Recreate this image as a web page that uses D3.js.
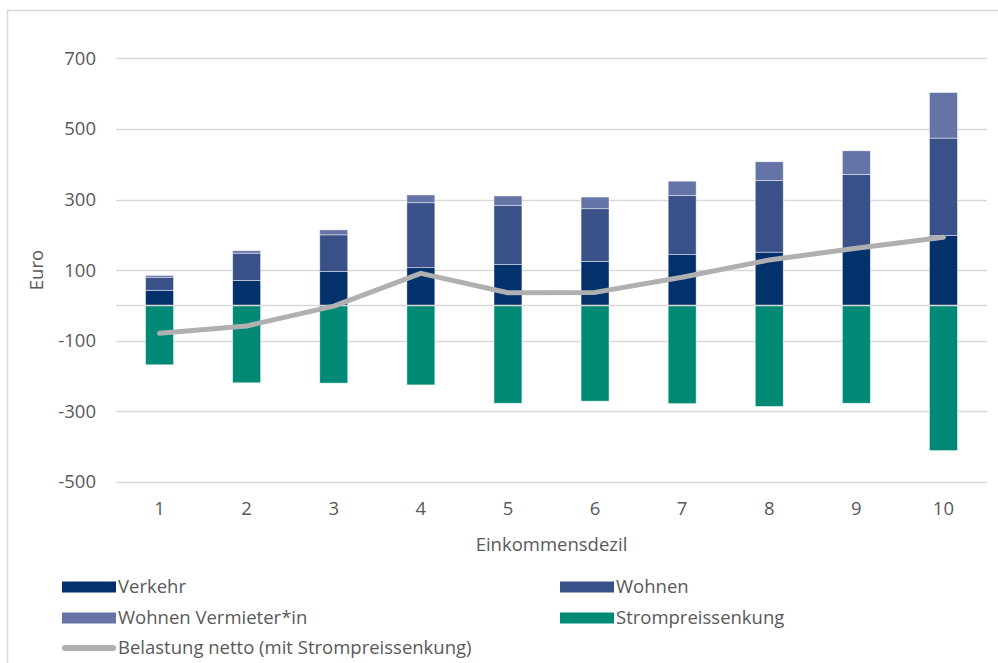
<!DOCTYPE html>
<html>
<head>
<meta charset="utf-8">
<script src="https://cdn.jsdelivr.net/npm/d3@7"></script>
<style>
  body { margin: 0; background: #fff; }
  text { font-family: "Open Sans", sans-serif; fill: #595959; }
</style>
</head>
<body>
<svg id="chart" width="998" height="663"></svg>
<script>
const categories = ["1","2","3","4","5","6","7","8","9","10"];
const verkehr    = [43, 71, 96, 107, 116, 125, 144, 151, 161, 198];
const wohnen     = [37, 77, 104, 184, 167, 149, 167, 203, 210, 276];
const vermieter  = [5, 7, 14, 22, 27, 33, 41, 53, 67, 129];
const strom      = [-168, -219, -220, -225, -277, -271, -278, -286, -277, -411];
const netto      = [-79, -58, -2, 91, 36, 37, 80, 129, 162, 193];
const yTicks     = [-500, -300, -100, 100, 300, 500, 700];

const seriesNames = ["Verkehr", "Wohnen", "Wohnen Vermieter*in", "Strompreissenkung", "Belastung netto (mit Strompreissenkung)"];
const colors = ["#03316c", "#3a5088", "#6673a6", "#008a76", "#b0b0b0"];

const svg = d3.select("#chart");

// outer border
svg.append("rect").attr("x", 7.5).attr("y", 10.5).attr("width", 1100).attr("height", 800)
  .attr("fill", "none").attr("stroke", "#d9d9d9").attr("stroke-width", 1.5);

const x = d3.scaleBand().domain(categories).range([116, 987]).paddingInner(0.679).paddingOuter(0.3395);
const y = d3.scaleLinear().domain([-500, 700]).range([482, 58.3]);

// gridlines
svg.append("g").selectAll("line").data(yTicks).join("line")
  .attr("x1", 116).attr("x2", 987)
  .attr("y1", d => Math.round(y(d)) + 0.5).attr("y2", d => Math.round(y(d)) + 0.5)
  .attr("stroke", "#d9d9d9").attr("stroke-width", 1.5);

// y tick labels
svg.append("g").selectAll("text").data(yTicks).join("text")
  .attr("x", 96).attr("y", d => y(d)).attr("dy", "0.35em")
  .attr("text-anchor", "end").attr("font-size", 18.5)
  .text(d => d);

// stacked positive bars
const stackData = categories.map((c, i) => ({ cat: c, v: verkehr[i], w: wohnen[i], m: vermieter[i] }));
const stack = d3.stack().keys(["v", "w", "m"])(stackData);
const bw = x.bandwidth();
svg.append("g").selectAll("g").data(stack).join("g")
  .attr("fill", (d, i) => colors[i])
  .selectAll("rect").data(d => d).join("rect")
  .attr("x", d => x(d.data.cat)).attr("width", bw)
  .attr("y", d => y(d[1])).attr("height", d => y(d[0]) - y(d[1]))
  .attr("stroke", "#ffffff").attr("stroke-opacity", 0.6).attr("stroke-width", 0.75);

// negative bars
svg.append("g").selectAll("rect").data(strom).join("rect")
  .attr("x", (d, i) => x(categories[i])).attr("width", bw)
  .attr("y", y(0)).attr("height", d => y(d) - y(0))
  .attr("fill", colors[3])
  .attr("stroke", "#ffffff").attr("stroke-opacity", 0.6).attr("stroke-width", 0.75);

// zero line
svg.append("line").attr("x1", 116).attr("x2", 987)
  .attr("y1", y(0)).attr("y2", y(0))
  .attr("stroke", "#d9d9d9").attr("stroke-width", 1.5);

// net line
const line = d3.line().x((d, i) => x(categories[i]) + bw / 2).y(d => y(d));
svg.append("path").datum(netto).attr("d", line)
  .attr("fill", "none").attr("stroke", colors[4]).attr("stroke-width", 5)
  .attr("stroke-linecap", "round").attr("stroke-linejoin", "round");

// category labels
svg.append("g").selectAll("text").data(categories).join("text")
  .attr("x", d => x(d) + bw / 2).attr("y", 509).attr("dy", "0.35em")
  .attr("text-anchor", "middle").attr("font-size", 18.5)
  .text(d => d);

// axis titles
svg.append("text").attr("x", 551.5).attr("y", 545).attr("dy", "0.35em")
  .attr("text-anchor", "middle").attr("font-size", 18.5).text("Einkommensdezil");
svg.append("text").attr("transform", "translate(37,270) rotate(-90)").attr("dy", "0.35em")
  .attr("text-anchor", "middle").attr("font-size", 18.5).text("Euro");

// legend
const legendItems = [
  { name: seriesNames[0], color: colors[0], x: 62, y: 587, type: "rect" },
  { name: seriesNames[1], color: colors[1], x: 560, y: 587, type: "rect" },
  { name: seriesNames[2], color: colors[2], x: 62, y: 618, type: "rect" },
  { name: seriesNames[3], color: colors[3], x: 560, y: 618, type: "rect" },
  { name: seriesNames[4], color: colors[4], x: 62, y: 648, type: "line" }
];
const lg = svg.append("g").selectAll("g").data(legendItems).join("g")
  .attr("transform", d => `translate(${d.x},${d.y})`);
lg.filter(d => d.type === "rect").append("rect")
  .attr("x", 0).attr("y", -5.5).attr("width", 54).attr("height", 11).attr("fill", d => d.color);
lg.filter(d => d.type === "line").append("line")
  .attr("x1", 3).attr("x2", 51).attr("y1", 0).attr("y2", 0)
  .attr("stroke", d => d.color).attr("stroke-width", 6).attr("stroke-linecap", "round");
lg.append("text").attr("x", 56).attr("y", 0).attr("dy", "0.35em")
  .attr("font-size", 18.5).text(d => d.name);
</script>
</body>
</html>
